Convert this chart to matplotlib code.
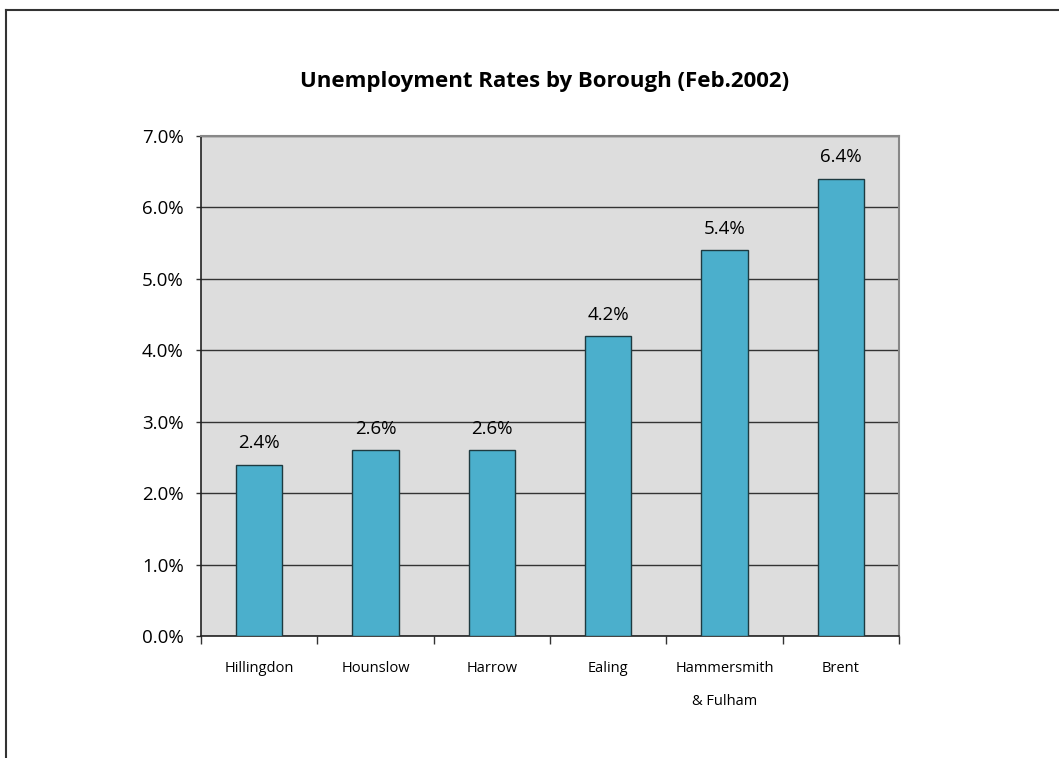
import matplotlib
matplotlib.use("Agg")
import matplotlib.pyplot as plt
from matplotlib.lines import Line2D
from matplotlib.ticker import FuncFormatter, FixedLocator

categories = ["Hillingdon", "Hounslow", "Harrow", "Ealing", "Hammersmith\n& Fulham", "Brent"]
rates = [2.4, 2.6, 2.6, 4.2, 5.4, 6.4]
yticks = [0, 1, 2, 3, 4, 5, 6, 7]
title = "Unemployment Rates by Borough (Feb.2002)"

plt.rcParams['font.family'] = ['Open Sans', 'DejaVu Sans']

W, H = 1059, 758
fig = plt.figure(figsize=(W / 100, H / 100), dpi=100)
ax = fig.add_axes([201 / W, 1 - 636 / H, (899 - 201) / W, (636 - 136) / H])
ax.set_facecolor('#DDDDDD')

x = list(range(len(categories)))
bars = ax.bar(x, rates, width=0.4, color='#4BAFCC', edgecolor='#1E3A40', linewidth=1.0, zorder=3)
for xi, v in zip(x, rates):
    ax.text(xi, v + 0.3, f"{v:.1f}%", ha='center', va='center', fontsize=13.5, color='black', zorder=4)

ax.set_xlim(-0.5, len(categories) - 0.5)
ax.set_ylim(0, 7)
ax.yaxis.set_major_locator(FixedLocator(yticks))
ax.yaxis.set_major_formatter(FuncFormatter(lambda v, p: f"{v:.1f}%"))
ax.grid(axis='y', color='#333333', linewidth=1.0, zorder=1)
ax.set_axisbelow(True)

ax.set_xticks(x)
ax.set_xticklabels(categories, fontsize=10.5, linespacing=2.6, va='top')
ax.tick_params(axis='x', which='major', length=0, pad=18)
ax.set_xticks([i - 0.5 for i in range(len(categories) + 1)], minor=True)
ax.tick_params(axis='x', which='minor', length=5.5, width=1, color='#333333', direction='out')
ax.tick_params(axis='y', length=3.5, width=1, color='#333333', direction='out', labelsize=13.5, pad=9)

for s in ['top', 'right']:
    ax.spines[s].set_color('#888888')
    ax.spines[s].set_linewidth(1.5)
for s in ['left', 'bottom']:
    ax.spines[s].set_color('#222222')
    ax.spines[s].set_linewidth(1.2)

fig.text(545 / W, 1 - 82 / H, title, ha='center', va='center', fontsize=16, fontweight='bold')

# outer border (left and top)
fig.add_artist(Line2D([6 / W, 6 / W], [0, 1 - 10 / H], transform=fig.transFigure, color='#333333', linewidth=1.5))
fig.add_artist(Line2D([6 / W, 1], [1 - 10 / H, 1 - 10 / H], transform=fig.transFigure, color='#333333', linewidth=1.5))

fig.savefig("out.png", dpi=100, facecolor='white')
